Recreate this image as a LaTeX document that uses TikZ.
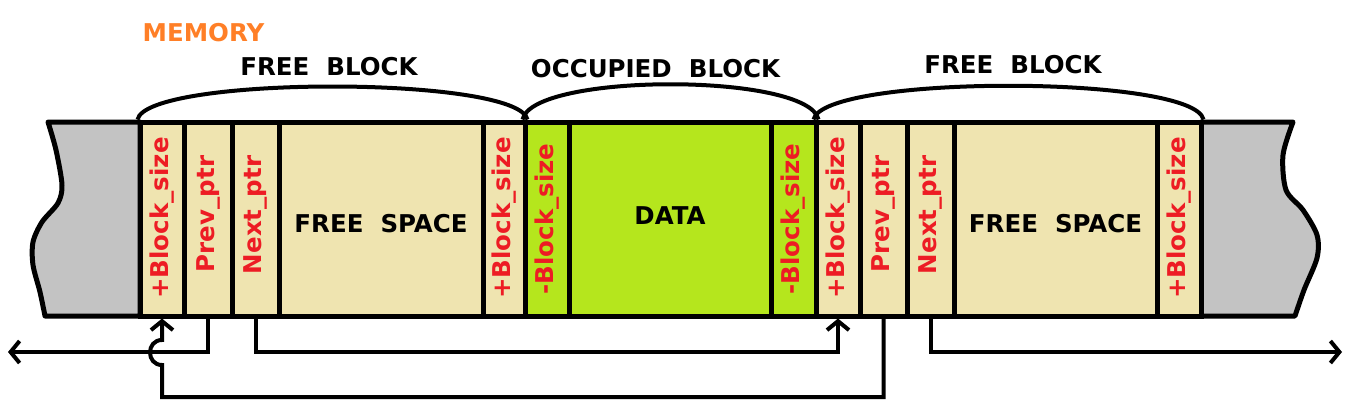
\documentclass[tikz,border=0pt]{standalone}
\usepackage{fontspec}
\setmainfont{DejaVu Sans}
\usetikzlibrary{arrows.meta}
\definecolor{celltan}{HTML}{EFE4B0}
\definecolor{cellgreen}{HTML}{B5E61D}
\definecolor{endgray}{HTML}{C3C3C3}
\definecolor{labelred}{HTML}{ED1C24}
\definecolor{memorange}{HTML}{FF7F27}
\newcommand{\bigfont}{\fontsize{24.5}{28}\selectfont\bfseries}
\begin{document}
\begin{tikzpicture}[x=1pt,y=-1pt,
  cell/.style={draw=black, line width=5pt, minimum height=194pt, inner sep=0pt},
  freecell/.style={cell, fill=celltan},
  usedcell/.style={cell, fill=cellgreen},
  vlabel/.style={rotate=90, text=labelred, font=\bigfont, inner sep=0pt},
  biglabel/.style={font=\bigfont, inner sep=0pt},
  brace/.style={line width=4pt},
  link/.style={line width=4pt, -{Straight Barb[length=9pt,width=22pt]}},
  endpiece/.style={fill=endgray, draw=black, line width=5pt, line join=round}]
\useasboundingbox (0,0) rectangle (1349,413);

% gray ends
\draw[endpiece] (140,122) -- plot[smooth] coordinates {(48,122) (56,150) (62,185) (58,203) (42,222) (33,242) (33,265) (40,292) (45,316)} -- (140,316) -- cycle;
\draw[endpiece] (1201,122) -- plot[smooth] coordinates {(1293,122) (1283,155) (1286,190) (1303,210) (1317,235) (1317,258) (1304,290) (1295,316)} -- (1201,316) -- cycle;

% cells
\node[freecell, minimum width=44pt]  (c1)  at (162,219) {};
\node[freecell, minimum width=48pt]  (c2)  at (208,219) {};
\node[freecell, minimum width=47pt]  (c3)  at (255.5,219) {};
\node[freecell, minimum width=204pt] (c4)  at (381,219) {};
\node[freecell, minimum width=42pt]  (c5)  at (504,219) {};
\node[usedcell, minimum width=44pt]  (c6)  at (547,219) {};
\node[usedcell, minimum width=202pt] (c7)  at (670,219) {};
\node[usedcell, minimum width=45pt]  (c8)  at (793.5,219) {};
\node[freecell, minimum width=44pt]  (c9)  at (838,219) {};
\node[freecell, minimum width=47pt]  (c10) at (883.5,219) {};
\node[freecell, minimum width=47pt]  (c11) at (930.5,219) {};
\node[freecell, minimum width=203pt] (c12) at (1055.5,219) {};
\node[freecell, minimum width=44pt]  (c13) at (1179,219) {};

% cell labels
\node[vlabel] (l1)  at (162,218) {+Block\_size};
\node[vlabel] (l2)  at (208,214) {Prev\_ptr};
\node[vlabel] (l3)  at (255.5,215) {Next\_ptr};
\node[biglabel] (l4) at (381,224) {FREE\ \ SPACE};
\node[vlabel] (l5)  at (504,218) {+Block\_size};
\node[vlabel] (l6)  at (547,219) {-Block\_size};
\node[biglabel] (l7) at (670,216) {DATA};
\node[vlabel] (l8)  at (793.5,219) {-Block\_size};
\node[vlabel] (l9)  at (838,218) {+Block\_size};
\node[vlabel] (l10) at (883.5,214) {Prev\_ptr};
\node[vlabel] (l11) at (930.5,215) {Next\_ptr};
\node[biglabel] (l12) at (1055.5,224) {FREE\ \ SPACE};
\node[vlabel] (l13) at (1179,218) {+Block\_size};

% top labels
\node[biglabel, text=memorange] (mem) at (203.5,33) {MEMORY};
\node[biglabel] (fb1) at (329,67) {FREE\ \ BLOCK};
\node[biglabel] (ob)  at (655.5,69) {OCCUPIED\ \ BLOCK};
\node[biglabel] (fb2) at (1013,65) {FREE\ \ BLOCK};

% braces
\draw[brace] (c1.north west) .. controls +(10,-44) and +(-10,-44) .. (c5.north east);
\draw[brace] (c6.north west) .. controls +(10,-47) and +(-10,-47) .. (c8.north east);
\draw[brace] (c9.north west) .. controls +(10,-45) and +(-10,-45) .. (c13.north east);

% connectors
\coordinate (midrun) at (0,352);
\coordinate (lowrun) at (0,397);
\coordinate (hoplow) at (0,365);
\coordinate (hophigh) at (0,340);
\coordinate (leftend) at (8,352);
\coordinate (rightend) at (1342,352);

\draw[link] (c2.south) |- (leftend);
\draw[link] (c3.south) -- (c3.south |- midrun) -| (c9.south);
\draw[link] (c11.south) |- (rightend);
\draw[link] (c10.south) |- (c1.south |- lowrun) -- (c1.south |- hoplow)
  .. controls +(-16,0) and +(-16,0) .. (c1.south |- hophigh) -- (c1.south);
\end{tikzpicture}
\end{document}
